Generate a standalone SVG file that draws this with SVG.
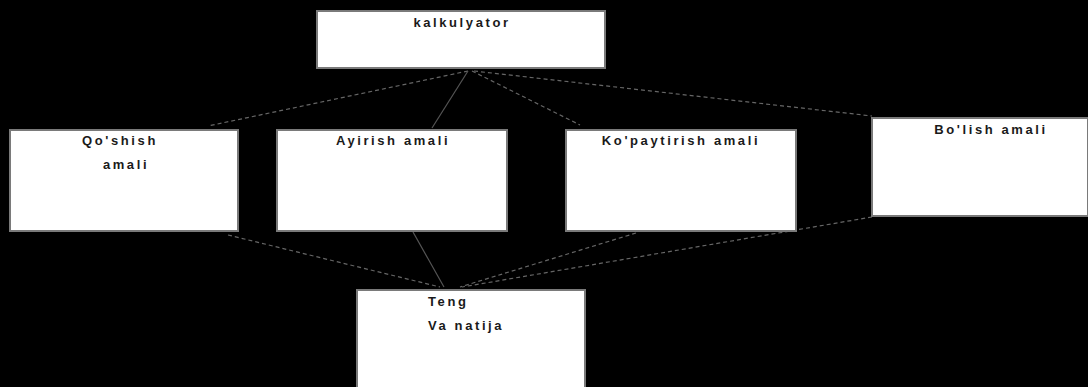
<svg xmlns="http://www.w3.org/2000/svg" width="1088" height="387" viewBox="0 0 1088 387">
<style>
.box{fill:#fff;stroke:#7a7a7a;stroke-width:2}
.t{font-family:"Liberation Sans",Arial,sans-serif;font-size:13px;font-weight:bold;fill:#1a1a1a;letter-spacing:2.6px}
.c{text-anchor:middle}
.d{stroke:#666;stroke-width:1.2;stroke-dasharray:4 3;fill:none}
.s{stroke:#555;stroke-width:1.2;fill:none}
</style>
<rect x="0" y="0" width="1088" height="387" fill="#000"/>
<g id="connectors">
<line class="d" x1="468" y1="71" x2="208" y2="126"/>
<line class="s" x1="468" y1="71" x2="432" y2="128"/>
<line class="d" x1="472" y1="71" x2="580" y2="125"/>
<line class="d" x1="474" y1="71" x2="872" y2="116"/>
<line class="d" x1="228" y1="235" x2="440" y2="287"/>
<line class="s" x1="413" y1="232" x2="444" y2="287"/>
<line class="d" x1="636" y1="233" x2="460" y2="287"/>
<line class="d" x1="872" y1="217" x2="462" y2="287"/>
</g>
<g id="kalkulyator">
<rect class="box" x="317" y="11" width="288" height="57"/>
<text class="t c" x="462" y="27">kalkulyator</text>
</g>
<g id="qoshish">
<rect class="box" x="10" y="130" width="228" height="101"/>
<text class="t c" x="120" y="145">Qo'shish</text>
<text class="t c" x="126" y="169">amali</text>
</g>
<g id="ayirish">
<rect class="box" x="277" y="130" width="230" height="101"/>
<text class="t c" x="393" y="145">Ayirish amali</text>
</g>
<g id="kopaytirish">
<rect class="box" x="566" y="130" width="230" height="101"/>
<text class="t c" x="681" y="145">Ko'paytirish amali</text>
</g>
<g id="bolish">
<rect class="box" x="872" y="118" width="216" height="98"/>
<text class="t c" x="991" y="134">Bo'lish amali</text>
</g>
<g id="teng">
<rect class="box" x="357" y="290" width="228" height="100"/>
<text class="t" x="428" y="306">Teng</text>
<text class="t" x="428" y="330">Va natija</text>
</g>
</svg>
